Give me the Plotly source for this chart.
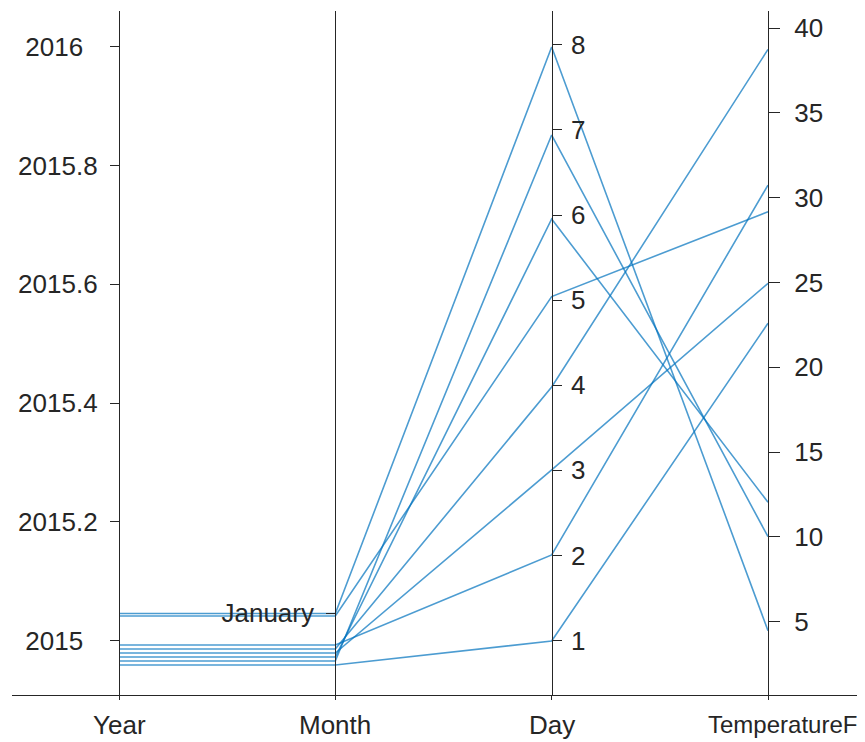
import plotly.graph_objects as go

# ---------------- data ----------------
categories = ["Year", "Month", "Day", "TemperatureF"]

# plotted (jittered) positions of each of the 8 rows on every coordinate
year_vals = [2015.0458, 2015.0416, 2014.9928, 2014.9860, 2014.9793, 2014.9726, 2014.9658, 2014.9591]
month_vals = [0.9997, 0.9955, 0.9466, 0.9399, 0.9332, 0.9264, 0.9197, 0.9130]
day_vals = [7.974, 5.041, 2.005, 3.979, 3.004, 5.953, 6.940, 0.994]
temp_vals = [4.47, 29.17, 30.74, 38.74, 24.95, 12.04, 10.01, 22.59]

year_ticks = [2015, 2015.2, 2015.4, 2015.6, 2015.8, 2016]
year_ticktext = ["2015\u00a0\u00a0", "2015.2", "2015.4", "2015.6", "2015.8", "2016\u00a0\u00a0"]
month_ticks = [1]
month_ticktext = ["January"]
day_ticks = [1, 2, 3, 4, 5, 6, 7, 8]
temp_ticks = [5, 10, 15, 20, 25, 30, 35, 40]

# ---------------- styling / scales ----------------
line_color = "rgba(0,114,189,0.7)"
axis_color = "#262626"
font = dict(family="Liberation Sans, Arial, Helvetica, sans-serif", size=26, color=axis_color)
font_narrow = dict(font, size=24)

x_range = [-0.4946, 3.4484]
axis_ranges = {
    "Year": [2014.9086, 2016.0601],
    "Month": [0.8625, 2.0140],
    "Day": [0.3596, 8.3972],
    "TemperatureF": [0.679, 41.002],
}
values = {"Year": year_vals, "Month": month_vals, "Day": day_vals, "TemperatureF": temp_vals}


def norm(v, dim):
    lo, hi = axis_ranges[dim]
    return (v - lo) / (hi - lo)


fig = go.Figure()

n_rows = len(year_vals)
for r in range(n_rows):
    ys = [norm(values[c][r], c) for c in categories]
    fig.add_trace(go.Scatter(
        x=list(range(len(categories))), y=ys, mode="lines",
        line=dict(color=line_color, width=1.6),
        hoverinfo="skip", showlegend=False))

axis_names = ["yaxis2", "yaxis3", "yaxis4", "yaxis5"]
axis_refs = ["y2", "y3", "y4", "y5"]
sides = ["left", "left", "right", "right"]
standoffs = [7, 7, 4, 9]
ticklens = [9, 9, 9, 11]
tick_specs = [
    (year_ticks, year_ticktext),
    (month_ticks, month_ticktext),
    (day_ticks, [str(t) for t in day_ticks]),
    (temp_ticks, [str(t) for t in temp_ticks]),
]

layout_axes = {}
for i, c in enumerate(categories):
    # invisible markers bind each dimension's axis to its data
    fig.add_trace(go.Scatter(
        x=[i] * n_rows, y=values[c], yaxis=axis_refs[i], mode="markers",
        marker=dict(opacity=0), hoverinfo="skip", showlegend=False))
    pos = (i - x_range[0]) / (x_range[1] - x_range[0])
    tv, tt = tick_specs[i]
    layout_axes[axis_names[i]] = dict(
        overlaying="y", anchor="free", position=pos, side=sides[i],
        range=axis_ranges[c], showline=True, linecolor=axis_color, linewidth=1.3,
        ticks="outside", ticklen=ticklens[i], tickwidth=1.3, tickcolor=axis_color,
        tickvals=tv, ticktext=tt, tickfont=font, ticklabelstandoff=standoffs[i],
        showgrid=False, zeroline=False, automargin=False,
    )

annotations = []
for i, c in enumerate(categories):
    last = c == "TemperatureF"
    annotations.append(dict(
        x=i, y=0, xref="x", yref="paper", yanchor="top", xanchor="center",
        yshift=-13 if not last else -14, xshift=14 if last else 0,
        text=c, showarrow=False, font=font_narrow if last else font))

# the page adds an 8px body margin, so the figure is sized to fit the window
fig.update_layout(
    width=857, height=734,
    margin=dict(l=4, r=0, t=3, b=47, pad=0, autoexpand=False),
    paper_bgcolor="white", plot_bgcolor="white",
    xaxis=dict(range=x_range, showline=True, linecolor=axis_color, linewidth=1.3,
               ticks="outside", ticklen=4, tickwidth=1.3, tickcolor=axis_color,
               tickvals=[0, 1, 2, 3], showticklabels=False,
               showgrid=False, zeroline=False),
    yaxis=dict(range=[0, 1], visible=False, showgrid=False, zeroline=False),
    annotations=annotations,
    **layout_axes,
)

fig.write_html("out.html")
